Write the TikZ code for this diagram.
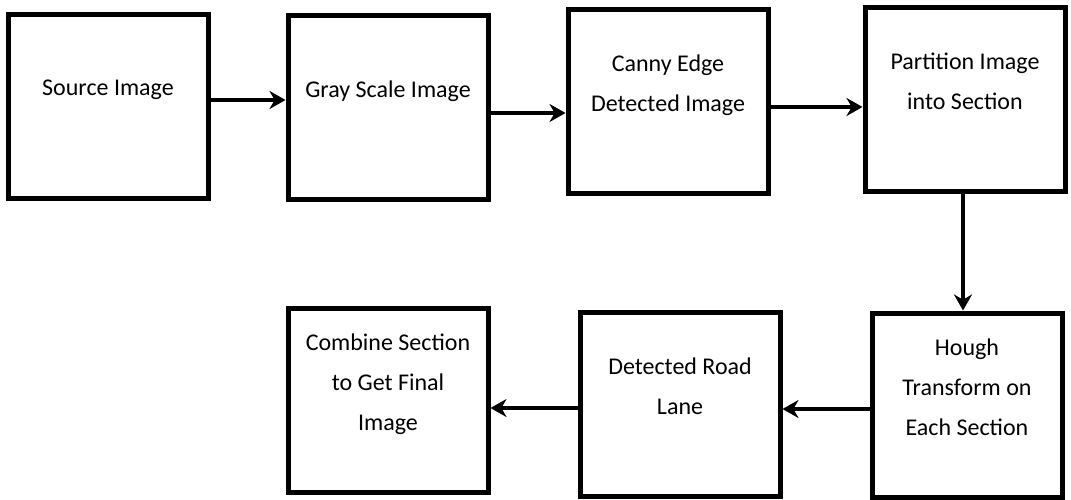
\documentclass[tikz,border=0pt]{standalone}
\usepackage{fontspec}
\setmainfont{Carlito}
\usetikzlibrary{arrows.meta}
\tikzstyle{stage}=[rectangle, draw, line width=2.5pt, minimum width=100pt, minimum height=92pt, align=center, text depth=18pt, font=\fontsize{12}{20}\selectfont]
\tikzstyle{flow}=[line width=2pt, -{Stealth[length=8pt,width=9pt]}]

\begin{document}
\begin{tikzpicture}[x=0.5pt,y=-0.5pt]
				\useasboundingbox (0,0) rectangle (1071,499);
				
				\node[stage] (src) at (108,106) {Source Image};
				\node[stage] (gray) at (388,107) {Gray Scale Image};
				\node[stage] (canny) at (668,101) {Canny Edge\\Detected Image};
				\node[stage] (part) at (965,99) {Partition Image\\into Section};
				\node[stage, minimum width=95pt] (hough) at (967,405) {Hough\\Transform on\\Each Section};
				\node[stage] (road) at (680,404) {Detected Road\\Lane};
				\node[stage] (comb) at (388,400) {Combine Section\\to Get Final\\Image};
				
				
				\draw[flow] ([yshift=3pt]src.east) -- ([yshift=3pt]src.east -| gray.west);
				\draw[flow] ([yshift=-3pt]gray.east) -- ([yshift=-3pt]gray.east -| canny.west);
				\draw[flow] ([yshift=-3pt]canny.east) -- ([yshift=-3pt]canny.east -| part.west);
				\draw[flow] ([xshift=-1pt]part.south) -- ([xshift=-1pt]part.south |- hough.north);
				\draw[flow] ([yshift=-2pt]hough.west) -- ([yshift=-2pt]hough.west -| road.east);
				\draw[flow] ([yshift=-2pt]road.west) -- ([yshift=-2pt]road.west -| comb.east);
			\end{tikzpicture}
\end{document}
